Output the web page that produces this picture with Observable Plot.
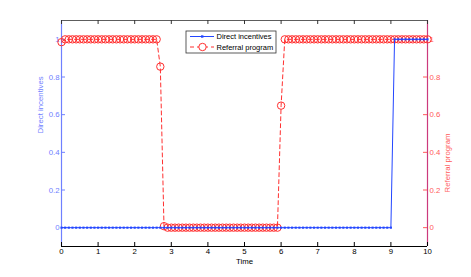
<!DOCTYPE html>
<html>
<head>
<meta charset="utf-8">
<script src="https://cdn.jsdelivr.net/npm/d3@7"></script>
<script src="https://cdn.jsdelivr.net/npm/@observablehq/plot@0.6"></script>
<style>
  html, body { margin: 0; padding: 0; background: #fff; }
  svg { font-family: "Liberation Sans", Arial, Helvetica, sans-serif; }
</style>
</head>
<body>
<div id="chart"></div>
<script>
// ---- data ----
const time = [
  0, 0.1, 0.2, 0.3, 0.4, 0.5, 0.6, 0.7, 0.8, 0.9,
  1, 1.1, 1.2, 1.3, 1.4, 1.5, 1.6, 1.7, 1.8, 1.9,
  2, 2.1, 2.2, 2.3, 2.4, 2.5, 2.6, 2.7, 2.8, 2.9,
  3, 3.1, 3.2, 3.3, 3.4, 3.5, 3.6, 3.7, 3.8, 3.9,
  4, 4.1, 4.2, 4.3, 4.4, 4.5, 4.6, 4.7, 4.8, 4.9,
  5, 5.1, 5.2, 5.3, 5.4, 5.5, 5.6, 5.7, 5.8, 5.9,
  6, 6.1, 6.2, 6.3, 6.4, 6.5, 6.6, 6.7, 6.8, 6.9,
  7, 7.1, 7.2, 7.3, 7.4, 7.5, 7.6, 7.7, 7.8, 7.9,
  8, 8.1, 8.2, 8.3, 8.4, 8.5, 8.6, 8.7, 8.8, 8.9,
  9, 9.1, 9.2, 9.3, 9.4, 9.5, 9.6, 9.7, 9.8, 9.9,
  10
];
const directIncentives = [
  0, 0, 0, 0, 0, 0, 0, 0, 0, 0,
  0, 0, 0, 0, 0, 0, 0, 0, 0, 0,
  0, 0, 0, 0, 0, 0, 0, 0, 0, 0,
  0, 0, 0, 0, 0, 0, 0, 0, 0, 0,
  0, 0, 0, 0, 0, 0, 0, 0, 0, 0,
  0, 0, 0, 0, 0, 0, 0, 0, 0, 0,
  0, 0, 0, 0, 0, 0, 0, 0, 0, 0,
  0, 0, 0, 0, 0, 0, 0, 0, 0, 0,
  0, 0, 0, 0, 0, 0, 0, 0, 0, 0,
  0, 1, 1, 1, 1, 1, 1, 1, 1, 1,
  1
];
const referralProgram = [
  0.985, 1, 1, 1, 1, 1, 1, 1, 1, 1,
  1, 1, 1, 1, 1, 1, 1, 1, 1, 1,
  1, 1, 1, 1, 1, 1, 1, 0.855, 0.008, 0,
  0, 0, 0, 0, 0, 0, 0, 0, 0, 0,
  0, 0, 0, 0, 0, 0, 0, 0, 0, 0,
  0, 0, 0, 0, 0, 0, 0, 0, 0, 0,
  0.648, 1, 1, 1, 1, 1, 1, 1, 1, 1,
  1, 1, 1, 1, 1, 1, 1, 1, 1, 1,
  1, 1, 1, 1, 1, 1, 1, 1, 1, 1,
  1, 1, 1, 1, 1, 1, 1, 1, 1, 1,
  1
];
const xTicks = [0, 1, 2, 3, 4, 5, 6, 7, 8, 9, 10];
const yTicks = [0, 0.2, 0.4, 0.6, 0.8, 1];
const xDomain = [0, 10];
const yDomain = [-0.1, 1.1];
const seriesNames = ["Direct incentives", "Referral program"];
const xLabel = "Time";

// ---- styles ----
const blueLine = "#2346ff";
const blueAxis = "#6f80ff";
const redLine = "#ff2f2f";
const redText = "#ff5a5a";
const redAxis = "#cc3a7c";
const fs = 7.8;
const font = '"Liberation Sans", Arial, Helvetica, sans-serif';

const data = time.map((t, i) => ({t, d: directIncentives[i], r: referralProgram[i]}));

const W = 471, H = 277;
const mL = 61, mR = 44, mT = 20, mB = 31;
const frameW = W - mL - mR, frameH = H - mT - mB;
const tickLen = 4;

const chart = Plot.plot({
  width: W,
  height: H,
  marginLeft: mL,
  marginRight: mR,
  marginTop: mT,
  marginBottom: mB,
  style: {fontFamily: font, fontSize: fs + "px", background: "#fff"},
  x: {domain: xDomain},
  y: {domain: yDomain},
  marks: [
    // frame
    Plot.ruleY([yDomain[0]], {stroke: "#000", strokeWidth: 1}),
    Plot.ruleY([yDomain[1]], {stroke: "#333", strokeWidth: 0.8}),
    Plot.ruleX([xDomain[0]], {stroke: blueAxis, strokeWidth: 1.2}),
    Plot.ruleX([xDomain[1]], {stroke: redAxis, strokeWidth: 1.2}),
    // inward ticks
    Plot.ruleX(xTicks, {x: d => d, stroke: "#000", insetTop: frameH - tickLen}),
    Plot.ruleX(xTicks, {x: d => d, stroke: "#333", insetBottom: frameH - tickLen}),
    Plot.ruleY(yTicks, {y: d => d, stroke: blueAxis, insetRight: frameW - tickLen}),
    Plot.ruleY(yTicks, {y: d => d, stroke: redText, insetLeft: frameW - tickLen}),
    // tick labels
    Plot.axisX(xTicks, {anchor: "bottom", tickSize: 0, tickPadding: 2, fontSize: fs, fill: "#000", label: null}),
    Plot.axisY(yTicks, {anchor: "left", tickSize: 0, tickPadding: 2, fontSize: fs, color: blueAxis, fill: blueAxis, label: null, tickFormat: d => String(d)}),
    Plot.axisY(yTicks, {anchor: "right", tickSize: 0, tickPadding: 2, fontSize: fs, color: redText, fill: redText, label: null, tickFormat: d => String(d)}),
    // axis labels
    Plot.text([seriesNames[0]], {text: d => d, frameAnchor: "left", rotate: -90, dx: -21, fill: blueAxis, fontSize: fs}),
    Plot.text([seriesNames[1]], {text: d => d, frameAnchor: "right", rotate: -90, dx: 20, fill: redText, fontSize: fs}),
    Plot.text([xLabel], {text: d => d, frameAnchor: "bottom", dy: 17, fill: "#000", fontSize: fs}),
    // referral program
    Plot.line(data, {x: "t", y: "r", stroke: redLine, strokeWidth: 1, strokeDasharray: "4,3"}),
    Plot.dot(data, {x: "t", y: "r", r: 3.7, stroke: redLine, strokeWidth: 1, fill: "none"}),
    // direct incentives
    Plot.line(data, {x: "t", y: "d", stroke: blueLine, strokeWidth: 1}),
    Plot.dot(data, {x: "t", y: "d", r: 1.2, fill: blueLine, stroke: "none", symbol: "square"})
  ]
});

// legend
const svg = d3.select(chart);
const lg = svg.append("g")
  .attr("font-size", 7.5)
  .attr("font-family", font)
  .attr("text-anchor", "start");
lg.append("rect").attr("x", 186).attr("y", 31).attr("width", 90).attr("height", 22)
  .attr("fill", "#fff").attr("stroke", "#333").attr("stroke-width", 0.8);
lg.append("line").attr("x1", 190).attr("x2", 214).attr("y1", 36.5).attr("y2", 36.5)
  .attr("stroke", blueLine).attr("stroke-width", 1);
lg.append("rect").attr("x", 201).attr("y", 35.3).attr("width", 2.4).attr("height", 2.4).attr("fill", blueLine);
lg.append("text").attr("x", 216.5).attr("y", 36.5).attr("dy", "0.35em")
  .attr("text-anchor", "start").attr("fill", "#000").text(seriesNames[0]);
lg.append("line").attr("x1", 190).attr("x2", 214).attr("y1", 47).attr("y2", 47)
  .attr("stroke", redLine).attr("stroke-width", 1).attr("stroke-dasharray", "4,3");
lg.append("circle").attr("cx", 202.5).attr("cy", 47).attr("r", 3.7)
  .attr("stroke", redLine).attr("fill", "#fff").attr("stroke-width", 1);
lg.append("text").attr("x", 216.5).attr("y", 47).attr("dy", "0.35em")
  .attr("text-anchor", "start").attr("fill", "#000").text(seriesNames[1]);

document.getElementById("chart").appendChild(chart);
</script>
</body>
</html>
